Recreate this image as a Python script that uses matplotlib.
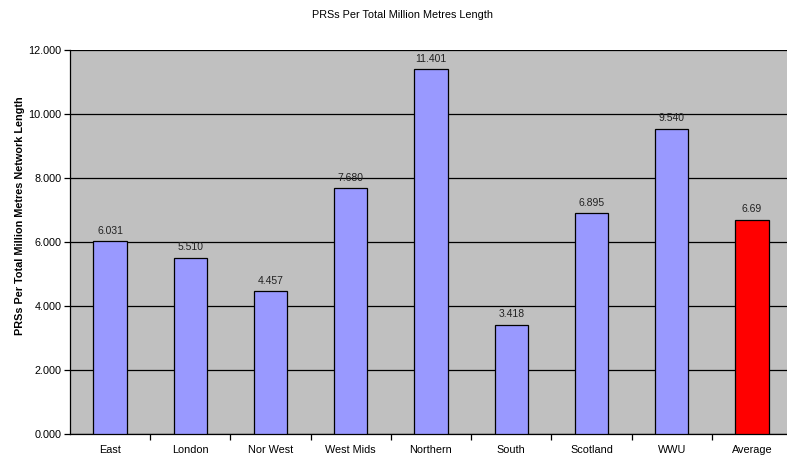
import matplotlib
matplotlib.use("Agg")
import matplotlib.pyplot as plt
from matplotlib.ticker import FixedLocator, FuncFormatter
import numpy as np

plt.rcParams['font.family'] = ['Liberation Sans', 'DejaVu Sans']

regions = ["East", "London", "Nor West", "West Mids", "Northern", "South",
           "Scotland", "WWU", "Average"]
values = [6.031, 5.510, 4.457, 7.680, 11.401, 3.418, 6.895, 9.540, 6.69]
value_labels = ["6.031", "5.510", "4.457", "7.680", "11.401", "3.418",
                "6.895", "9.540", "6.69"]
bar_colors = ["#9999FF"] * 8 + ["#FF0000"]

W, H = 787, 458
fig = plt.figure(figsize=(W / 100, H / 100), dpi=100)
ax = fig.add_axes([70 / W, 24 / H, 722 / W, 384 / H])
ax.set_facecolor("#C0C0C0")

x = np.arange(len(regions))
ax.bar(x, values, width=0.415, color=bar_colors, edgecolor="black",
       linewidth=0.9, zorder=3)

for xi, v, lab in zip(x, values, value_labels):
    ax.text(xi, v + 0.17, lab, ha="center", va="bottom", fontsize=7.5,
            color="#222222", zorder=4)

ax.set_xlim(-0.5, len(regions) - 0.5)
ax.set_ylim(0, 12)
ax.set_yticks(np.arange(0, 12.1, 2))
ax.yaxis.set_major_formatter(FuncFormatter(lambda v, p: f"{v:.3f}"))
ax.grid(axis="y", color="black", linewidth=0.9, zorder=1)

ax.set_xticks(x)
ax.set_xticklabels(regions)
ax.xaxis.set_minor_locator(FixedLocator(np.arange(0.5, len(regions) - 0.5, 1)))
ax.tick_params(axis="x", which="major", length=0, pad=8, labelsize=7.8)
ax.tick_params(axis="x", which="minor", length=4, width=0.9, direction="out")
ax.tick_params(axis="y", length=4, width=0.9, direction="out", labelsize=7.8, pad=2)

for side in ["top", "right"]:
    ax.spines[side].set_visible(False)
ax.spines["left"].set_linewidth(0.9)
ax.spines["bottom"].set_linewidth(0.9)

fig.text(20 / W, 1 - 216 / H, "PRSs Per Total Million Metres Network Length",
         rotation=90, ha="center", va="center", fontsize=7.8, fontweight="bold")
fig.text(403 / W, 1 - 15 / H, "PRSs Per Total Million Metres Length",
         ha="center", va="center", fontsize=7.8)

fig.savefig("out.png", dpi=100, facecolor="white")
